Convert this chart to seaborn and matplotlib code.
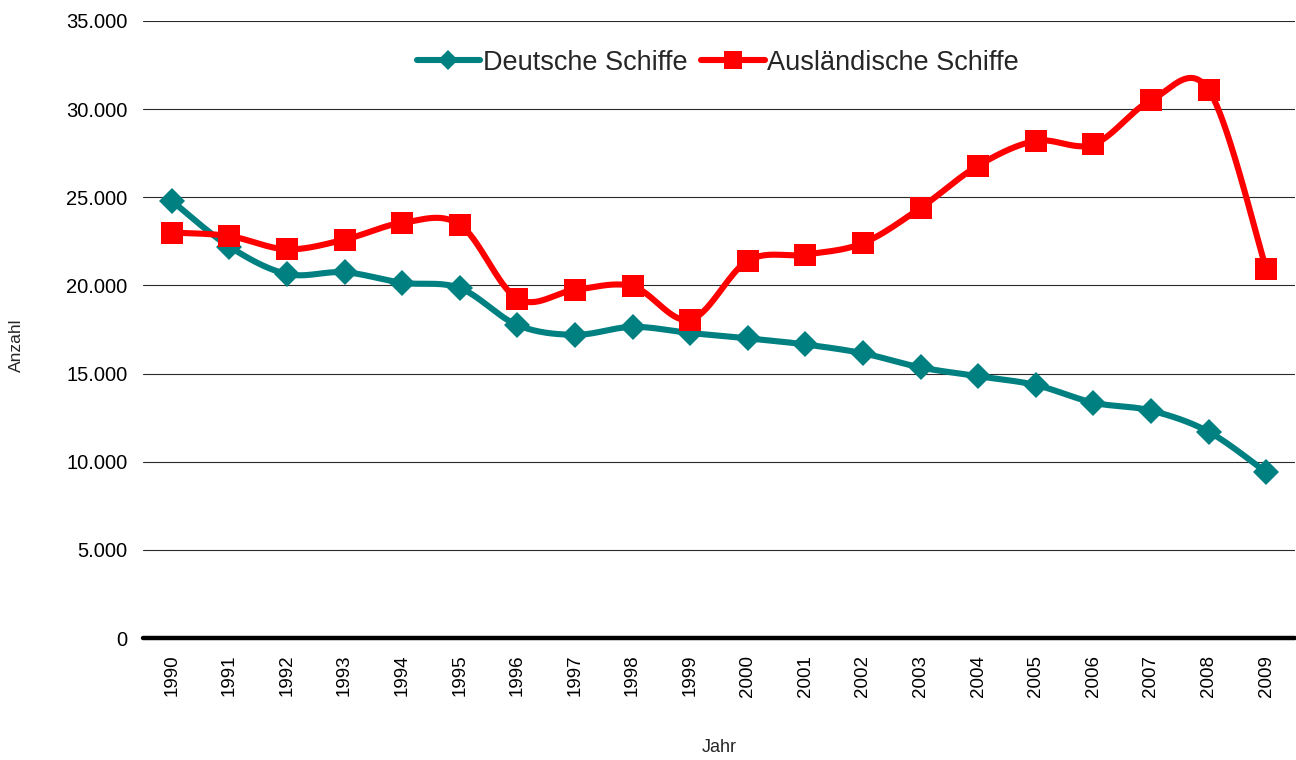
import numpy as np
import pandas as pd
import matplotlib
matplotlib.use("Agg")
import matplotlib.pyplot as plt
from matplotlib.lines import Line2D
from matplotlib.ticker import FuncFormatter
import seaborn as sns

# Schiffsankünfte je Jahr
jahre = [1990, 1991, 1992, 1993, 1994, 1995, 1996, 1997, 1998, 1999,
         2000, 2001, 2002, 2003, 2004, 2005, 2006, 2007, 2008, 2009]
deutsche = [24800, 22200, 20650, 20750, 20150, 19850, 17750, 17200, 17650, 17300,
            17000, 16650, 16150, 15350, 14850, 14350, 13350, 12900, 11700, 9400]
auslaendische = [23000, 22800, 22050, 22600, 23550, 23450, 19250, 19750, 19950, 18050,
                 21400, 21750, 22400, 24400, 26800, 28200, 28000, 30500, 31100, 20950]

TEAL = "#008080"
RED = "#FF0000"

sns.set_theme(style="white")
plt.rcParams["font.family"] = ["Liberation Sans", "DejaVu Sans"]


def smooth_curve(xs, ys, steps=40):
    """Cubic Bezier smoothing through every point (Catmull-Rom style)."""
    pts = np.column_stack([np.asarray(xs, float), np.asarray(ys, float)])
    ext = np.vstack([pts[0], pts, pts[-1]])
    t = np.linspace(0, 1, steps)[:, None]
    segs = []
    for i in range(len(pts) - 1):
        p0, p1, p2, p3 = ext[i], ext[i + 1], ext[i + 2], ext[i + 3]
        c1 = p1 + (p2 - p0) / 6.0
        c2 = p2 - (p3 - p1) / 6.0
        b = ((1 - t) ** 3) * p1 + 3 * ((1 - t) ** 2) * t * c1 + 3 * (1 - t) * t ** 2 * c2 + t ** 3 * p2
        segs.append(b if i == 0 else b[1:])
    out = np.vstack(segs)
    return out[:, 0], out[:, 1]


pos = np.arange(len(jahre))
df = pd.DataFrame({"pos": pos, "Jahr": jahre,
                   "Deutsche Schiffe": deutsche,
                   "Ausländische Schiffe": auslaendische})

fig = plt.figure(figsize=(12.96, 7.6), dpi=100)
ax = fig.add_axes([143 / 1296, 122 / 760, 1152 / 1296, 617 / 760])

for col, color, marker, ms in [("Deutsche Schiffe", TEAL, "D", 13.5),
                               ("Ausländische Schiffe", RED, "s", 16.5)]:
    sx, sy = smooth_curve(df["pos"], df[col])
    sns.lineplot(x=sx, y=sy, sort=False, estimator=None, color=color,
                 linewidth=4.4, ax=ax, legend=False, zorder=3)
    ax.plot(df["pos"], df[col], linestyle="none", marker=marker, markersize=ms,
            color=color, markeredgewidth=0, zorder=4)

ax.set_xlim(-0.5, len(jahre) - 0.5)
ax.set_ylim(0, 35000)
ax.set_yticks(np.arange(0, 35001, 5000))
ax.yaxis.set_major_formatter(FuncFormatter(lambda v, _: f"{int(v):,}".replace(",", ".")))
ax.set_xticks(pos)
ax.set_xticklabels([str(j) for j in jahre], rotation=90)

ax.grid(axis="y", color="#2a2a2a", linewidth=0.8)
ax.grid(axis="x", visible=False)
ax.set_axisbelow(True)
for side in ["top", "right", "left"]:
    ax.spines[side].set_visible(False)
ax.spines["bottom"].set_color("black")
ax.spines["bottom"].set_linewidth(3.2)
ax.spines["bottom"].set_capstyle("round")
ax.spines["bottom"].set_zorder(5)

ax.tick_params(axis="y", length=0, pad=11, labelsize=14.5, colors="black")
ax.tick_params(axis="x", length=0, pad=12, labelsize=13.5, colors="black")

ax.set_xlabel("Jahr", fontsize=13)
ax.set_ylabel("Anzahl", fontsize=12.5)
ax.xaxis.set_label_coords(0.5, -0.163)
ax.yaxis.set_label_coords(-0.103, 0.475)

handles = [
    Line2D([], [], color=TEAL, linewidth=4.4, marker="D", markersize=10, markeredgewidth=0),
    Line2D([], [], color=RED, linewidth=4.4, marker="s", markersize=13, markeredgewidth=0),
]
ax.legend(handles, ["Deutsche Schiffe", "Ausländische Schiffe"], loc="center",
          bbox_to_anchor=(0.499, 0.932), ncol=2, frameon=False, fontsize=19.5,
          handlelength=2.35, handletextpad=0.1, columnspacing=0.5)

fig.savefig("out.png", dpi=100, facecolor="white")
